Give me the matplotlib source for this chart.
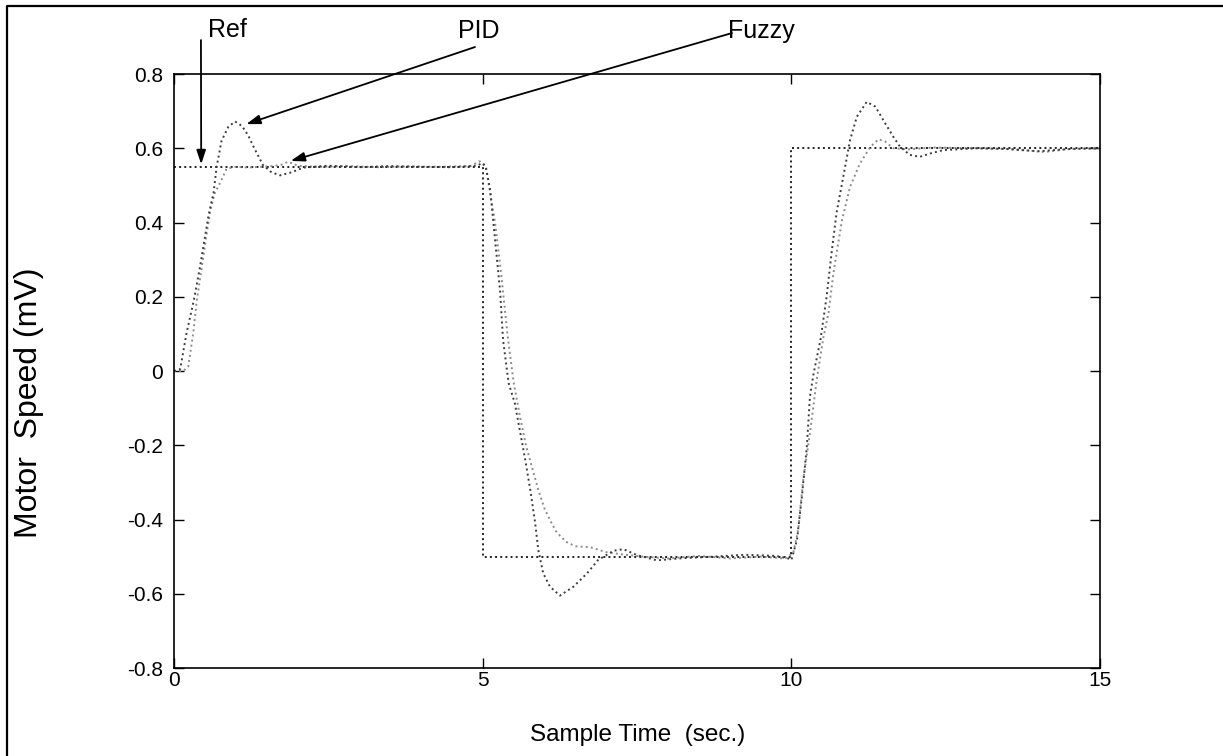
from matplotlib.lines import Line2D
import matplotlib.pyplot as plt
import numpy as np

plt.rcParams['font.family'] = ['Liberation Sans', 'DejaVu Sans']
plt.rcParams['axes.unicode_minus'] = False

####################################################################################################
# data

ref_t = [0, 5, 5, 10, 10, 15]
ref_v = [0.55, 0.55, -0.5, -0.5, 0.6, 0.6]

pid_t = [0, 0.1, 0.2, 0.32, 0.42, 0.48, 0.56, 0.64, 0.69, 0.77, 0.88, 0.99, 1.1, 1.2, 1.3,
         1.44, 1.58, 1.72, 1.9, 2.1, 2.5, 3.0, 3.5, 4.0, 4.5, 4.9, 5.0, 5.05, 5.12, 5.2,
         5.28, 5.33, 5.42, 5.52, 5.6, 5.69, 5.77, 5.85, 5.9, 5.98, 6.09, 6.25, 6.47, 6.69,
         6.87, 7.12, 7.28, 7.5, 7.82, 8.25, 8.75, 9.25, 9.75, 9.95, 10.0, 10.09, 10.17,
         10.25, 10.3, 10.36, 10.47, 10.57, 10.65, 10.73, 10.84, 10.95, 11.06, 11.22, 11.36,
         11.52, 11.65, 11.76, 11.92, 12.08, 12.25, 12.46, 13.0, 13.5, 14.0, 14.5, 15.0]
pid_v = [0, 0.005, 0.1, 0.19, 0.28, 0.34, 0.42, 0.48, 0.55, 0.62, 0.658, 0.672, 0.66, 0.635,
         0.6, 0.555, 0.535, 0.527, 0.535, 0.548, 0.553, 0.549, 0.552, 0.55, 0.549, 0.553,
         0.56, 0.55, 0.488, 0.353, 0.218, 0.083, -0.033, -0.087, -0.159, -0.24, -0.32,
         -0.41, -0.482, -0.545, -0.581, -0.605, -0.581, -0.545, -0.509, -0.484, -0.48,
         -0.496, -0.51, -0.504, -0.5, -0.495, -0.498, -0.505, -0.509, -0.455, -0.338,
         -0.204, -0.069, -0.006, 0.083, 0.2, 0.317, 0.425, 0.523, 0.622, 0.685, 0.725,
         0.712, 0.667, 0.631, 0.604, 0.582, 0.577, 0.586, 0.595, 0.6, 0.598, 0.592, 0.598,
         0.6]

fuzzy_t = [0, 0.15, 0.23, 0.31, 0.37, 0.45, 0.53, 0.59, 0.66, 0.77, 0.85, 1.0, 1.2, 1.4,
           1.6, 1.75, 1.85, 2.0, 2.3, 2.8, 3.3, 3.8, 4.3, 4.8, 4.95, 5.05, 5.1, 5.2, 5.3,
           5.4, 5.5, 5.6, 5.7, 5.8, 5.9, 6.0, 6.1, 6.2, 6.35, 6.5, 6.75, 7.0, 7.3, 7.6, 8.0,
           8.5, 9.0, 9.5, 9.9, 10.03, 10.11, 10.19, 10.3, 10.41, 10.52, 10.6, 10.68, 10.82,
           10.95, 11.11, 11.28, 11.41, 11.52, 11.65, 11.9, 12.3, 13.0, 13.5, 14.1, 14.5, 15.0]
fuzzy_v = [0, 0.0, 0.012, 0.101, 0.191, 0.281, 0.371, 0.434, 0.479, 0.515, 0.545, 0.55,
           0.548, 0.55, 0.552, 0.556, 0.564, 0.553, 0.55, 0.552, 0.549, 0.551, 0.55, 0.552,
           0.565, 0.55, 0.5, 0.4, 0.26, 0.1, -0.03, -0.12, -0.2, -0.26, -0.32, -0.37, -0.405,
           -0.435, -0.46, -0.472, -0.475, -0.488, -0.495, -0.5, -0.505, -0.498, -0.505, -0.5,
           -0.505, -0.49, -0.428, -0.294, -0.168, -0.024, 0.092, 0.155, 0.263, 0.407, 0.496,
           0.559, 0.604, 0.624, 0.618, 0.6, 0.597, 0.602, 0.6, 0.598, 0.59, 0.598, 0.6]

x_ticks = [0, 5, 10, 15]
y_ticks = [-0.8, -0.6, -0.4, -0.2, 0, 0.2, 0.4, 0.6, 0.8]

# label, arrow head (data), arrow tail (figure fraction), text position (figure fraction)
annotations = [
    ('Ref', (0.44, 0.557), (0.1643, 0.947), (0.170, 0.9507)),
    ('PID', (1.17, 0.665), (0.3884, 0.9378), (0.3747, 0.9497)),
    ('Fuzzy', (1.89, 0.566), (0.5985, 0.9563), (0.5955, 0.9497)),
]

####################################################################################################

fig = plt.figure(figsize=(12.23, 7.56), dpi=100)
ax = fig.add_axes([0.1423, 0.1164, 0.7572, 0.7857])

ax.plot(ref_t, ref_v, color='#222222', linestyle=':', linewidth=1.4)
ax.plot(fuzzy_t, fuzzy_v, color='#8c8c8c', linestyle=':', linewidth=1.4)
ax.plot(pid_t, pid_v, color='#3c3c3c', linestyle=':', linewidth=1.4)

ax.set_xlim(0, 15)
ax.set_ylim(-0.8, 0.8)
ax.set_xticks(x_ticks, labels=[f'{_:g}' for _ in x_ticks])
ax.set_yticks(y_ticks, labels=[f'{_:g}' for _ in y_ticks])
ax.tick_params(direction='in', length=7, width=1, top=True, right=True, labelsize=15)
ax.tick_params(axis='x', pad=2)
ax.tick_params(axis='y', pad=8)
for spine in ax.spines.values():
    spine.set_linewidth(1.2)

fig.text(638 / 1223, 1 - 735 / 756, 'Sample Time  (sec.)', fontsize=17.5, ha='center', va='center')
fig.text(29 / 1223, 1 - 403 / 756, 'Motor  Speed (mV)', fontsize=23, rotation=90,
         ha='center', va='center')

for label, head, tail, text_xy in annotations:
    ax.annotate('', xy=head, xycoords='data', xytext=tail, textcoords='figure fraction',
                arrowprops=dict(arrowstyle='-|>,head_length=0.6,head_width=0.2', color='black',
                                lw=1.3, mutation_scale=14, shrinkA=0, shrinkB=0),
                annotation_clip=False)
    fig.text(*text_xy, label, fontsize=18, ha='left', va='baseline')

# outer frame (only left and top edges are inside the picture)
fig.add_artist(Line2D([7 / 1223, 7 / 1223, 1], [0, 1 - 6 / 756, 1 - 6 / 756],
                      transform=fig.transFigure, color='black', linewidth=1.6))

fig.savefig('out.png', dpi=100)
